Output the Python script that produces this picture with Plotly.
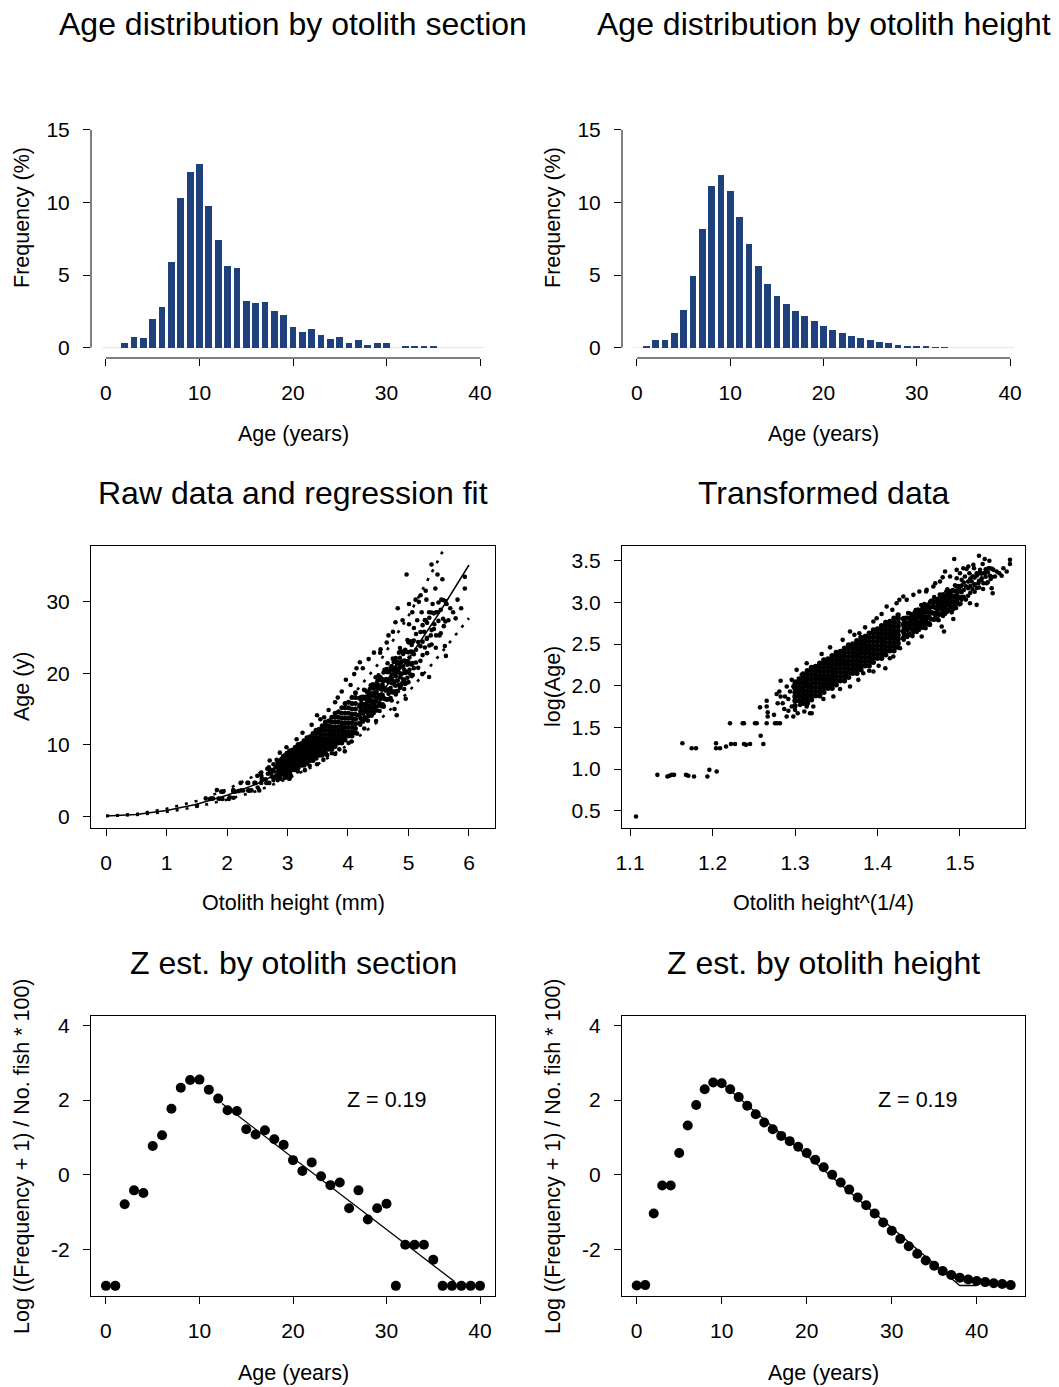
import numpy as np
import plotly.graph_objects as go

W, H = 1059, 1387
FONT = "Liberation Sans, Arial, Helvetica, sans-serif"

# ---------------- data ----------------
ages = list(range(0, 41))
freq_section = [0, 0, 0.32, 0.76, 0.67, 1.98, 2.78, 5.90, 10.29, 12.13, 12.63, 9.76, 7.42, 5.63, 5.47,
                3.24, 3.06, 3.17, 2.53, 2.27, 1.40, 1.08, 1.31, 0.85, 0.62, 0.74, 0.28, 0.53, 0.18, 0.28,
                0.32, 0, 0.10, 0.10, 0.10, 0.05, 0, 0, 0, 0, 0]
freq_height = [0, 0.05, 0.55, 0.53, 0.99, 2.60, 4.94, 8.18, 11.12, 11.90, 10.80, 9.01, 7.17, 5.61, 4.39,
               3.58, 3.01, 2.53, 2.16, 1.81, 1.49, 1.22, 1.01, 0.80, 0.64, 0.51, 0.37, 0.28, 0.18, 0.12,
               0.07, 0.05, 0.03, 0.02, 0, 0, 0, 0, 0, 0, 0]

log_section = [-2.98, -2.98, -0.79, -0.42, -0.49, 0.77, 1.06, 1.77, 2.33, 2.54, 2.55, 2.28, 2.04, 1.73,
               1.71, 1.22, 1.08, 1.19, 0.95, 0.80, 0.39, 0.10, 0.33, -0.04, -0.28, -0.21, -0.90, -0.42,
               -1.20, -0.90, -0.78, -2.98, -1.88, -1.88, -1.88, -2.28, -2.98, -2.98, -2.98, -2.98, -2.98]
ages_h = list(range(0, 45))
log_height = [-2.97, -2.96, -1.04, -0.29, -0.29, 0.58, 1.32, 1.87, 2.29, 2.47, 2.45, 2.29, 2.08, 1.85,
              1.62, 1.40, 1.22, 1.04, 0.90, 0.75, 0.58, 0.40, 0.20, 0.00, -0.21, -0.40, -0.61, -0.82,
              -1.04, -1.28, -1.50, -1.72, -1.92, -2.12, -2.30, -2.44, -2.58, -2.69, -2.76, -2.81, -2.85,
              -2.88, -2.91, -2.93, -2.96]
fit_section_age = [12.4, 37.3]
fit_section_val = [1.91, -2.87]
fit_height_age = [10, 38, 40]
fit_height_val = [2.45, -2.97, -2.97]
z_label = "Z = 0.19"

# regression fit and prediction limits on raw scale
fit_h = [0, 0.5, 1, 1.5, 2, 2.5, 3, 3.5, 4, 4.5, 5, 5.5, 6]
fit_age = [0.1, 0.3, 0.85, 1.75, 3.0, 4.6, 6.7, 9.3, 12.7, 16.8, 22.0, 28.3, 35.1]
pi_upper = [0.13, 0.38, 1.1, 2.2, 3.8, 5.9, 8.5, 11.9, 16.1, 21.3, 28.0, 35.9, 44.6]
pi_lower = [0.08, 0.24, 0.67, 1.38, 2.37, 3.6, 5.3, 7.3, 10.0, 13.3, 17.4, 22.4, 27.7]

# transformed data: x = height^(1/4), y = log(age)
core_cols = [1.300, 1.305, 1.310, 1.315, 1.320, 1.325, 1.330, 1.335, 1.340, 1.345, 1.350, 1.355,
             1.360, 1.365, 1.370, 1.375, 1.380, 1.385, 1.390, 1.395, 1.400, 1.405, 1.410, 1.415,
             1.420, 1.425]
core_vals = [
    [1.76, 1.82, 1.87, 1.92, 1.97, 2.02],
    [1.82, 1.88, 1.93, 1.98, 2.03, 2.08],
    [1.79, 1.84, 1.89, 1.94, 1.99, 2.04, 2.09, 2.14],
    [1.79, 1.84, 1.89, 1.94, 1.99, 2.03, 2.08, 2.13, 2.18],
    [1.83, 1.88, 1.93, 1.98, 2.03, 2.08, 2.13, 2.18, 2.22],
    [1.88, 1.93, 1.98, 2.03, 2.08, 2.13, 2.18, 2.23],
    [1.88, 1.93, 1.98, 2.03, 2.08, 2.12, 2.17, 2.22, 2.27],
    [1.92, 1.97, 2.02, 2.07, 2.12, 2.17, 2.22, 2.27, 2.31],
    [1.97, 2.02, 2.07, 2.12, 2.17, 2.22, 2.27, 2.32],
    [1.97, 2.02, 2.07, 2.12, 2.17, 2.21, 2.26, 2.31, 2.36],
    [2.01, 2.06, 2.11, 2.16, 2.21, 2.26, 2.31, 2.36, 2.40],
    [2.06, 2.11, 2.16, 2.21, 2.26, 2.31, 2.36, 2.41],
    [2.06, 2.11, 2.16, 2.21, 2.26, 2.30, 2.35, 2.40, 2.45],
    [2.10, 2.15, 2.20, 2.25, 2.30, 2.35, 2.40, 2.45, 2.49],
    [2.15, 2.20, 2.25, 2.30, 2.35, 2.40, 2.45, 2.50],
    [2.15, 2.20, 2.25, 2.30, 2.35, 2.39, 2.44, 2.49, 2.54],
    [2.19, 2.24, 2.29, 2.34, 2.39, 2.44, 2.49, 2.54, 2.58],
    [2.24, 2.29, 2.34, 2.39, 2.44, 2.49, 2.54, 2.59],
    [2.24, 2.29, 2.34, 2.39, 2.44, 2.48, 2.53, 2.58, 2.63],
    [2.28, 2.33, 2.38, 2.43, 2.48, 2.53, 2.58, 2.63, 2.67],
    [2.33, 2.38, 2.43, 2.48, 2.53, 2.58, 2.63, 2.68],
    [2.33, 2.38, 2.43, 2.48, 2.53, 2.57, 2.62, 2.67, 2.72],
    [2.37, 2.42, 2.47, 2.52, 2.57, 2.62, 2.67, 2.72, 2.76],
    [2.42, 2.47, 2.52, 2.57, 2.62, 2.67, 2.72, 2.77],
    [2.42, 2.47, 2.52, 2.57, 2.62, 2.66, 2.71, 2.76, 2.81],
    [2.46, 2.51, 2.56, 2.61, 2.66, 2.71, 2.76, 2.81, 2.85],
]
upper_cols = [1.4305, 1.4331, 1.4358, 1.4384, 1.4412, 1.4437, 1.4463, 1.4491, 1.4516, 1.4543, 1.4569,
              1.4596, 1.4622, 1.4648, 1.4675, 1.4701, 1.4728, 1.4755, 1.4781, 1.4807, 1.4834, 1.4860,
              1.4887, 1.4913, 1.4940, 1.4966, 1.4993, 1.5019, 1.5046, 1.5072, 1.5099, 1.5125, 1.5152,
              1.5178, 1.5205, 1.5231, 1.5258, 1.5284, 1.5311, 1.5337, 1.5364, 1.5390,
              1.4318, 1.4371, 1.4425, 1.4477, 1.4530, 1.4583, 1.4635, 1.4688, 1.4741, 1.4794, 1.4847,
              1.4900, 1.4953, 1.5006,
              1.4344, 1.4398, 1.4450, 1.4504, 1.4556, 1.4609, 1.4661, 1.4714, 1.4768, 1.4820, 1.4873,
              1.4926, 1.4979]
upper_vals = [
    [2.573, 2.653, 2.733, 2.803], [2.619, 2.709, 2.789], [2.585, 2.665, 2.745, 2.815],
    [2.630, 2.720, 2.800, 2.870], [2.687, 2.767, 2.857], [2.642, 2.722, 2.802, 2.842],
    [2.688, 2.778, 2.838, 2.908], [2.685, 2.765, 2.845, 2.915], [2.730, 2.820, 2.900],
    [2.696, 2.776, 2.856, 2.926], [2.741, 2.831, 2.911, 2.981], [2.798, 2.878, 2.968],
    [2.753, 2.833, 2.913, 2.953], [2.799, 2.889, 2.949, 3.019], [2.795, 2.875, 2.955, 3.025],
    [2.841, 2.931, 3.011], [2.807, 2.887, 2.967, 3.037], [2.853, 2.943, 3.023, 3.093],
    [2.909, 2.989, 3.079], [2.864, 2.944, 3.024, 3.064], [2.910, 3.000, 3.060, 3.130],
    [2.906, 2.986, 3.066, 3.136], [2.952, 3.042, 3.122], [2.918, 2.998, 3.078, 3.148],
    [2.964, 3.054, 3.134, 3.204], [3.020, 3.100, 3.190], [2.976, 3.056, 3.136, 3.176],
    [3.031, 3.121, 3.201], [3.068, 3.148, 3.238], [3.033, 3.193], [3.079, 3.169, 3.249],
    [3.115, 3.195, 3.285], [3.161, 3.311], [3.127, 3.217, 3.297], [3.173, 3.323],
    [3.179, 3.259, 3.349], [3.265, 3.345], [3.230, 3.350], [3.307, 3.397], [3.242, 3.362],
    [3.318, 3.408], [3.304, 3.404],
    [2.551, 2.621, 2.691, 2.751, 2.811], [2.603, 2.683, 2.753, 2.813, 2.873],
    [2.595, 2.665, 2.735, 2.795, 2.855], [2.646, 2.716, 2.786, 2.846, 2.906],
    [2.698, 2.778, 2.848, 2.908, 2.968], [2.690, 2.760, 2.830, 2.890, 2.950],
    [2.741, 2.811, 2.881, 2.941, 3.001], [2.793, 2.873, 2.943, 3.003, 3.063],
    [2.785, 2.855, 2.925, 2.985, 3.045], [2.836, 2.906, 2.976, 3.036, 3.096],
    [2.888, 2.968, 3.038, 3.098, 3.158], [2.880, 2.950, 3.020, 3.080, 3.140],
    [2.932, 3.002, 3.072, 3.132, 3.192], [2.984, 3.064, 3.134, 3.194],
    [2.606, 2.676, 2.756, 2.816], [2.609, 2.689, 2.759, 2.819], [2.670, 2.740, 2.820, 2.880],
    [2.672, 2.752, 2.822, 2.882], [2.734, 2.804, 2.884, 2.944], [2.735, 2.815, 2.885, 2.945],
    [2.797, 2.867, 2.947, 3.007], [2.798, 2.878, 2.948, 3.008], [2.861, 2.931, 3.011, 3.071],
    [2.862, 2.942, 3.012, 3.072], [2.924, 2.994, 3.074, 3.134], [2.926, 3.006, 3.076, 3.136],
    [2.987, 3.057, 3.137, 3.197],
]
extra_pts = [
    (1.1073, 0.43),
    (1.1332, 0.93), (1.1453, 0.91), (1.1477, 0.92), (1.1505, 0.93), (1.1534, 0.93), (1.1679, 0.93),
    (1.1707, 0.92), (1.1776, 0.91), (1.1938, 0.91), (1.1962, 0.99), (1.2051, 0.97),
    (1.1635, 1.31), (1.1748, 1.25), (1.1800, 1.25), (1.2043, 1.31), (1.2043, 1.25), (1.2091, 1.25),
    (1.2164, 1.27), (1.2224, 1.30), (1.2273, 1.30), (1.2382, 1.30), (1.2406, 1.29), (1.2455, 1.30),
    (1.2616, 1.30), (1.2584, 1.40),
    (1.2212, 1.55), (1.2366, 1.55), (1.2382, 1.55), (1.2515, 1.55), (1.2536, 1.55), (1.2657, 1.55),
    (1.2758, 1.55), (1.2786, 1.55), (1.2818, 1.55), (1.2576, 1.74),
    (1.2657, 1.82), (1.2657, 1.75), (1.2669, 1.68), (1.2669, 1.63), (1.2746, 1.65), (1.2778, 1.90),
    (1.2810, 1.93), (1.2826, 1.87), (1.2851, 1.79), (1.2879, 1.87), (1.2899, 1.63), (1.2919, 1.84),
    (1.2940, 1.93), (1.2960, 1.75), (1.2980, 1.63), (1.3000, 1.71), (1.3033, 1.67), (1.3041, 1.87),
    (1.3061, 1.77), (1.3081, 1.87), (1.3093, 1.97), (1.3113, 1.69), (1.3142, 1.75), (1.3202, 1.67),
    (1.2980, 1.99), (1.3000, 2.05), (1.2900, 1.99), (1.2960, 2.07), (1.3081, 2.13), (1.3142, 2.07),
    (1.2826, 2.06), (1.2920, 1.70), (1.2870, 1.72), (1.2790, 1.79),
    (1.4930, 3.52), (1.5230, 3.56), (1.5300, 3.52), (1.5356, 3.50), (1.5606, 3.51), (1.5606, 3.46),
    (1.5275, 3.46), (1.5526, 3.41), (1.5445, 3.37), (1.5505, 3.32), (1.5396, 3.11), (1.5404, 3.39),
    (1.5170, 3.41), (1.5080, 3.40), (1.5000, 3.35), (1.4790, 3.30), (1.4700, 3.23), (1.4590, 3.13),
    (1.4507, 3.13), (1.4313, 3.07), (1.4265, 3.03), (1.4111, 2.95), (1.3990, 2.81), (1.3950, 2.77),
    (1.3780, 2.63), (1.3667, 2.65), (1.3578, 2.55), (1.3425, 2.46), (1.3323, 2.38), (1.3142, 2.27),
    (1.3020, 2.19),
    (1.5202, 2.97), (1.5121, 2.99), (1.4919, 2.80), (1.4778, 2.71), (1.4806, 2.65), (1.4637, 2.73),
    (1.4536, 2.59), (1.4374, 2.51), (1.4273, 2.45), (1.4192, 2.35), (1.4095, 2.21), (1.4014, 2.24),
    (1.3950, 2.17), (1.3828, 2.15), (1.3768, 2.07), (1.3667, 1.99), (1.3546, 1.96), (1.3465, 1.87),
    (1.3344, 1.84), (1.3222, 1.75), (1.3182, 1.67),
    (1.4960, 3.29), (1.5020, 3.27), (1.5060, 3.31), (1.5114, 3.35), (1.5142, 3.25), (1.5162, 3.31),
    (1.5202, 3.35), (1.5222, 3.23), (1.5243, 3.39), (1.5263, 3.29), (1.5303, 3.35), (1.5323, 3.23),
    (1.5344, 3.41), (1.5372, 3.28), (1.5424, 3.31), (1.5477, 3.35), (1.5566, 3.37), (1.5162, 3.45),
    (1.5101, 3.43), (1.5040, 3.41), (1.4960, 3.39), (1.4880, 3.31), (1.4819, 3.37), (1.4758, 3.25),
    (1.4677, 3.19), (1.4596, 3.15), (1.4435, 3.09), (1.4354, 3.03), (1.4232, 2.99), (1.5174, 3.21),
    (1.5384, 3.17), (1.5280, 3.16),
    (1.3850, 2.70), (1.3720, 2.61), (1.4050, 2.86), (1.4180, 2.91), (1.3900, 2.18), (1.4150, 2.33),
]


def flatten(cols, vals):
    xs, ys = [], []
    for cx, vv in zip(cols, vals):
        for v in vv:
            xs.append(cx)
            ys.append(v)
    return np.array(xs), np.array(ys)


core_x, core_y = flatten(core_cols, core_vals)
up_x, up_y = flatten(upper_cols, upper_vals)
ex_x = np.array([p[0] for p in extra_pts])
ex_y = np.array([p[1] for p in extra_pts])
loose_x = np.concatenate([up_x, ex_x])
loose_y = np.concatenate([up_y, ex_y])

# ---------------- layout helpers ----------------
def xdom(a, b):
    return [a / W, b / W]

def ydom(top, bottom):
    return [1 - bottom / H, 1 - top / H]

LX = (91, 495)
RX = (622, 1025)
ROW1 = (76, 358)
ROW2 = (546, 828)
ROW3 = (1016, 1296)

BAR_COL = "#1E407C"
TICKFONT = dict(family=FONT, size=21, color="black")

fig = go.Figure()

# Row 1: histograms
fig.add_trace(go.Bar(x=ages, y=freq_section, width=0.72, marker=dict(color=BAR_COL, line=dict(width=0)),
                     xaxis="x", yaxis="y", showlegend=False))
fig.add_trace(go.Bar(x=ages, y=freq_height, width=0.72, marker=dict(color=BAR_COL, line=dict(width=0)),
                     xaxis="x2", yaxis="y2", showlegend=False))

# Row 2: raw data (back-transformed) and regression fit
fig.add_trace(go.Scatter(x=core_x ** 4, y=np.exp(core_y), mode="markers",
                         marker=dict(color="black", size=5), xaxis="x3", yaxis="y3", showlegend=False))
fig.add_trace(go.Scatter(x=loose_x ** 4, y=np.exp(loose_y), mode="markers",
                         marker=dict(color="black", size=4.6), xaxis="x3", yaxis="y3", showlegend=False))
fig.add_trace(go.Scatter(x=fit_h, y=fit_age, mode="lines", line=dict(color="black", width=1.5),
                         xaxis="x3", yaxis="y3", showlegend=False))
fig.add_trace(go.Scatter(x=fit_h, y=pi_upper, mode="lines", line=dict(color="black", width=2.6, dash="3px,7px"),
                         xaxis="x3", yaxis="y3", showlegend=False))
fig.add_trace(go.Scatter(x=fit_h, y=pi_lower, mode="lines", line=dict(color="black", width=2.6, dash="3px,7px"),
                         xaxis="x3", yaxis="y3", showlegend=False))
# transformed
fig.add_trace(go.Scatter(x=core_x, y=core_y, mode="markers", marker=dict(color="black", size=5.4),
                         xaxis="x4", yaxis="y4", showlegend=False))
fig.add_trace(go.Scatter(x=loose_x, y=loose_y, mode="markers", marker=dict(color="black", size=4.6),
                         xaxis="x4", yaxis="y4", showlegend=False))

# Row 3: catch curves
fig.add_trace(go.Scatter(x=ages, y=log_section, mode="markers", marker=dict(color="black", size=10),
                         xaxis="x5", yaxis="y5", showlegend=False))
fig.add_trace(go.Scatter(x=fit_section_age, y=fit_section_val, mode="lines", line=dict(color="black", width=1.3),
                         xaxis="x5", yaxis="y5", showlegend=False))
fig.add_trace(go.Scatter(x=ages_h, y=log_height, mode="markers", marker=dict(color="black", size=10),
                         xaxis="x6", yaxis="y6", showlegend=False))
fig.add_trace(go.Scatter(x=fit_height_age, y=fit_height_val, mode="lines", line=dict(color="black", width=1.3),
                         xaxis="x6", yaxis="y6", showlegend=False))


def axis(domain, rng, tickvals, ticktext=None, box=False, anchor=None, vertical=False):
    d = dict(domain=domain, range=rng, tickmode="array", tickvals=tickvals,
             ticks="outside", ticklen=7, tickwidth=1, tickcolor="black",
             tickfont=TICKFONT, showgrid=False, zeroline=False, anchor=anchor,
             ticklabelstandoff=9, fixedrange=True, automargin=False)
    if ticktext is not None:
        d["ticktext"] = ticktext
    if box:
        d.update(showline=True, linecolor="black", linewidth=1, mirror=True)
    else:
        d.update(showline=False)
    return d

layout = dict(
    width=W, height=H, margin=dict(l=0, r=0, t=0, b=0, autoexpand=False),
    paper_bgcolor="white", plot_bgcolor="white", font=dict(family=FONT, color="black"),
    bargap=0, showlegend=False,
)
layout["xaxis"] = axis(xdom(*LX), [-1.6, 41.6], [0, 10, 20, 30, 40], anchor="y")
layout["yaxis"] = axis(ydom(*ROW1), [-0.72, 18.72], [0, 5, 10, 15], anchor="x", vertical=True)
layout["xaxis2"] = axis(xdom(*RX), [-1.6, 41.6], [0, 10, 20, 30, 40], anchor="y2")
layout["yaxis2"] = axis(ydom(*ROW1), [-0.72, 18.72], [0, 5, 10, 15], anchor="x2", vertical=True)

layout["xaxis3"] = axis(xdom(*LX), [-0.248, 6.43], [0, 1, 2, 3, 4, 5, 6], box=True, anchor="y3")
layout["yaxis3"] = axis(ydom(*ROW2), [-1.576, 37.75], [0, 10, 20, 30], box=True, anchor="x3", vertical=True)
layout["xaxis4"] = axis(xdom(*RX), [1.0903, 1.5788], [1.1, 1.2, 1.3, 1.4, 1.5],
                        ["1.1", "1.2", "1.3", "1.4", "1.5"], box=True, anchor="y4")
layout["yaxis4"] = axis(ydom(*ROW2), [0.2924, 3.6765], [0.5, 1.0, 1.5, 2.0, 2.5, 3.0, 3.5],
                        ["0.5", "1.0", "1.5", "2.0", "2.5", "3.0", "3.5"], box=True, anchor="x4", vertical=True)

ytick_log = ["-2", "0", "2", "4"]
layout["xaxis5"] = axis(xdom(*LX), [-1.6, 41.6], [0, 10, 20, 30, 40], box=True, anchor="y5")
layout["yaxis5"] = axis(ydom(*ROW3), [-3.252, 4.255], [-2, 0, 2, 4], ytick_log, box=True, anchor="x5", vertical=True)
layout["xaxis6"] = axis(xdom(*RX), [-1.73, 45.68], [0, 10, 20, 30, 40], box=True, anchor="y6")
layout["yaxis6"] = axis(ydom(*ROW3), [-3.252, 4.255], [-2, 0, 2, 4], ytick_log, box=True, anchor="x6", vertical=True)

# R-style axis lines for histograms (span first to last tick only)
shapes = []
for xa, ya in (("x", "y"), ("x2", "y2")):
    shapes.append(dict(type="line", xref=xa, yref=ya, x0=-0.45, x1=40.45, y0=0, y1=0,
                       line=dict(color="#e4e9f1", width=1), layer="below"))
    shapes.append(dict(type="line", xref=xa, yref=ya + " domain", x0=0, x1=40, y0=0, y1=0,
                       line=dict(color="black", width=1)))
    shapes.append(dict(type="line", xref=xa + " domain", yref=ya, x0=0, x1=0, y0=0, y1=15,
                       line=dict(color="black", width=1)))
layout["shapes"] = shapes


def ann(text, px, py, size, angle=0):
    return dict(text=text, x=px / W, y=1 - py / H, xref="paper", yref="paper", showarrow=False,
                xanchor="center", yanchor="middle", textangle=angle,
                font=dict(family=FONT, size=size, color="black"))

LC = (LX[0] + LX[1]) / 2
RC = (RX[0] + RX[1]) / 2
annotations = [
    ann("Age distribution by otolith section", LC, 24, 32),
    ann("Age distribution by otolith height", RC, 24, 32),
    ann("Raw data and regression fit", LC, 493, 32),
    ann("Transformed data", RC, 493, 32),
    ann("Z est. by otolith section", LC, 963, 32),
    ann("Z est. by otolith height", RC, 963, 32),
    ann("Age (years)", LC, 434, 21.5),
    ann("Age (years)", RC, 434, 21.5),
    ann("Otolith height (mm)", LC, 903, 21.5),
    ann("Otolith height^(1/4)", RC, 903, 21.5),
    ann("Age (years)", LC, 1373, 21.5),
    ann("Age (years)", RC, 1373, 21.5),
    ann("Frequency (%)", 22, 218, 21.5, -90),
    ann("Frequency (%)", 553, 218, 21.5, -90),
    ann("Age (y)", 22, 687, 21.5, -90),
    ann("log(Age)", 553, 687, 21.5, -90),
    ann("Log ((Frequency + 1) / No. fish * 100)", 22, 1156, 21.5, -90),
    ann("Log ((Frequency + 1) / No. fish * 100)", 553, 1156, 21.5, -90),
    dict(text=z_label, x=30, y=2, xref="x5", yref="y5", showarrow=False, xanchor="center", yanchor="middle",
         font=dict(family=FONT, size=21.5, color="black")),
    dict(text=z_label, x=33, y=2, xref="x6", yref="y6", showarrow=False, xanchor="center", yanchor="middle",
         font=dict(family=FONT, size=21.5, color="black")),
]
layout["annotations"] = annotations

fig.update_layout(**layout)
fig.write_html("out.html")
